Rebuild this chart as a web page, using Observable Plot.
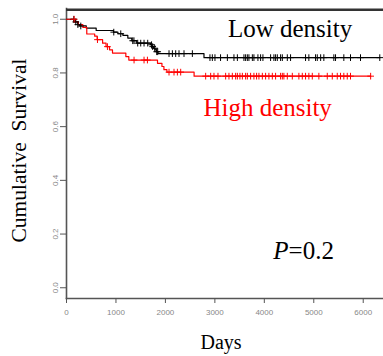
<!DOCTYPE html>
<html><head><meta charset="utf-8">
<script src="https://cdn.jsdelivr.net/npm/d3@7"></script>
<script src="https://cdn.jsdelivr.net/npm/@observablehq/plot@0.6"></script>
<style>body{margin:0;background:#fff}</style>
</head><body><div id="chart"></div>
<script>
// Low density (black) Kaplan-Meier steps
const lowTimes = [0, 150, 230, 265, 400, 600, 950, 1040, 1140, 1240, 1320, 1420, 1700, 1730, 1760, 1790, 1820, 1850, 2780];
const lowSurv  = [1, 0.99, 0.98, 0.975, 0.967, 0.958, 0.952, 0.946, 0.94, 0.93, 0.92, 0.911, 0.905, 0.898, 0.892, 0.886, 0.879, 0.872, 0.857];
const lowEnd = 6335;
const lowCensor = [148, 188, 230, 289, 956, 1097, 1339, 1364, 1440, 1501, 1568, 1642, 1720, 1743, 1784, 1824, 1844, 2073, 2141, 2208, 2275, 2376, 2545, 2901, 2949, 3002, 3115, 3253, 3386, 3455, 3588, 3622, 3657, 3689, 3758, 3790, 3871, 3925, 3972, 4127, 4194, 4228, 4263, 4329, 4364, 4465, 4531, 4834, 4901, 5036, 5071, 5139, 5204, 5406, 5440, 5608, 5743, 5945, 6335];

// High density (red)
const highTimes = [0, 180, 240, 330, 410, 570, 620, 730, 800, 870, 930, 1200, 1260, 1840, 1930, 1970, 2030, 2580];
const highSurv  = [1, 0.99, 0.98, 0.97, 0.945, 0.937, 0.924, 0.911, 0.898, 0.886, 0.874, 0.861, 0.848, 0.836, 0.824, 0.812, 0.803, 0.788];
const highEnd = 6150;
const highCensor = [154, 626, 828, 1366, 1568, 1636, 2073, 2174, 2242, 2309, 2814, 2915, 2982, 3063, 3218, 3285, 3353, 3420, 3455, 3507, 3556, 3622, 3657, 3723, 3790, 3844, 3891, 3960, 4026, 4093, 4162, 4228, 4329, 4364, 4396, 4465, 4566, 4699, 4768, 4834, 4901, 4970, 5103, 5273, 5374, 5475, 5541, 5608, 5677, 5743, 6150];

const groups = ["Low density", "High density"];
const groupColors = ["#000000", "#ff0000"];
const xTicks = [0, 1000, 2000, 3000, 4000, 5000, 6000];
const yTicks = [0, 0.2, 0.4, 0.6, 0.8, 1.0];
const yTickLabels = ["0.0", "0.2", "0.4", "0.6", "0.8", "1.0"];
const xLabel = "Days";
const yLabel = "Cumulative\u00a0\u00a0Survival";
// annotation anchors in data units (days, survival)
const groupLabelX = [4521, 4067];
const groupLabelY = [0.934, 0.6385];
const pLabelX = 4491, pLabelY = 0.1065;

function steps(group, times, surv, end) {
  const pts = times.map((t, i) => ({group, t, s: surv[i]}));
  pts.push({group, t: end, s: surv[surv.length - 1]});
  return pts;
}
function survAt(times, surv, t) {
  let s = surv[0];
  for (let i = 0; i < times.length; i++) if (times[i] <= t) s = surv[i];
  return s;
}
const lines = [
  ...steps(groups[0], lowTimes, lowSurv, lowEnd),
  ...steps(groups[1], highTimes, highSurv, highEnd)
];
const marks = [
  ...lowCensor.map(t => ({group: groups[0], t, s: survAt(lowTimes, lowSurv, t)})),
  ...highCensor.map(t => ({group: groups[1], t, s: survAt(highTimes, highSurv, t)}))
];
const labelData = groups.map((g, i) => ({g, x: groupLabelX[i], y: groupLabelY[i]}));

const axisColor = "#555555";
const serif = "'Liberation Serif', 'Times New Roman', serif";
const sans = "'Liberation Sans', Arial, sans-serif";

const chart = Plot.plot({
  width: 383, height: 356,
  marginLeft: 66, marginRight: 0, marginTop: 8, marginBottom: 58,
  x: {domain: [0, 6410]},
  y: {domain: [-0.04, 1.04]},
  color: {domain: groups, range: groupColors},
  style: {background: "#fff", overflow: "visible"},
  marks: [
    Plot.frame({anchor: "left", stroke: axisColor, strokeWidth: 1.6}),
    Plot.frame({anchor: "bottom", stroke: axisColor, strokeWidth: 1.6}),
    Plot.axisX({ticks: xTicks, tickSize: 5, tickFormat: d => String(d), fontSize: 8, fontFamily: sans, stroke: axisColor, fill: "#888", label: null, tickPadding: 6}),
    Plot.axisY({ticks: yTicks, tickSize: 6, tickRotate: -90, tickFormat: d => yTickLabels[yTicks.indexOf(d)], fontSize: 8, fontFamily: sans, stroke: axisColor, fill: "#888", label: null}),
    Plot.line(lines, {x: "t", y: "s", z: "group", stroke: "group", curve: "step-after", strokeWidth: 1.2}),
    Plot.dot(marks, {x: "t", y: "s", stroke: "group", symbol: "plus", r: 2.3, strokeWidth: 1}),
    Plot.text(labelData, {x: "x", y: "y", text: "g", fill: "g", fontSize: 25, fontFamily: serif, textAnchor: "middle", lineAnchor: "bottom"}),
    Plot.text(["P"], {x: [pLabelX], y: [pLabelY], text: d => d, fontSize: 25, fontFamily: serif, fontStyle: "italic", textAnchor: "end", lineAnchor: "bottom", fill: "#000"}),
    Plot.text(["=0.2"], {x: [pLabelX], y: [pLabelY], text: d => d, fontSize: 25, fontFamily: serif, textAnchor: "start", lineAnchor: "bottom", fill: "#000"}),
    Plot.text([xLabel], {frameAnchor: "bottom", dy: 50, dx: -4, textAnchor: "middle", lineAnchor: "bottom", fontSize: 20, fontFamily: serif, fill: "#000"}),
    Plot.text([yLabel], {frameAnchor: "left", dx: -47, dy: -3, rotate: -90, textAnchor: "middle", lineAnchor: "middle", fontSize: 21.5, fontFamily: serif, fill: "#000"}),
    Plot.ruleY([1.035], {stroke: "#333", strokeWidth: 2.5})
  ]
});
document.getElementById("chart").appendChild(chart);
</script>
</body></html>
